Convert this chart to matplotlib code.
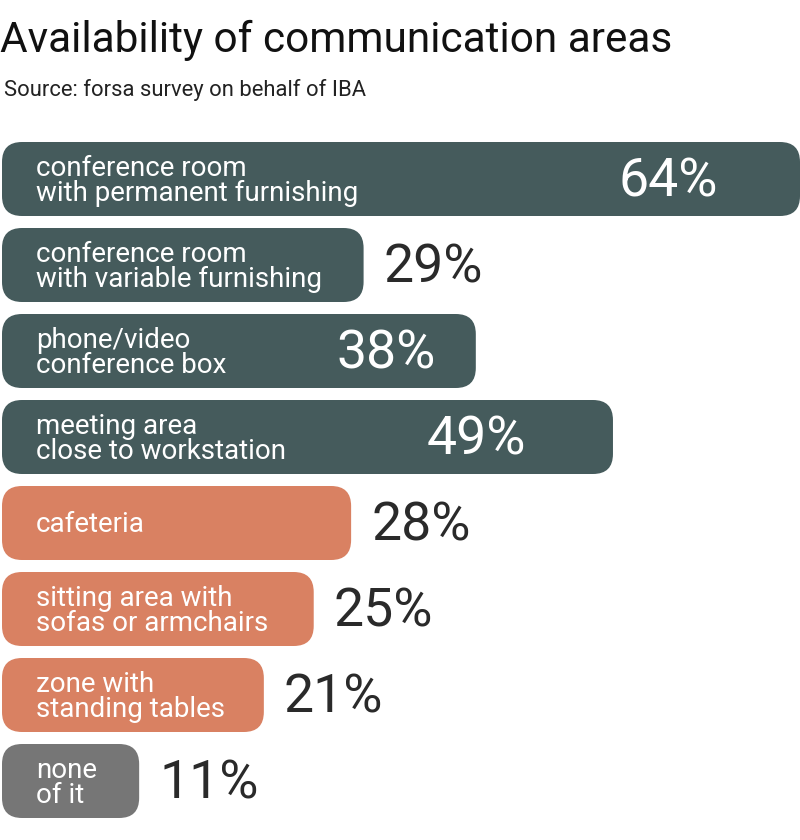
import matplotlib.pyplot as plt
from matplotlib.patches import FancyBboxPatch

# data
categories = ["conference room\nwith permanent furnishing",
              "conference room\nwith variable furnishing",
              "phone/video\nconference box",
              "meeting area\nclose to workstation",
              "cafeteria",
              "sitting area with\nsofas or armchairs",
              "zone with\nstanding tables",
              "none\nof it"]
values = [64, 29, 38, 49, 28, 25, 21, 11]
groups = ["room", "room", "room", "room", "social", "social", "social", "none"]

colors = {"room": "#455b5c", "social": "#d98162", "none": "#767676"}

plt.rcParams['font.family'] = ['Roboto', 'DejaVu Sans']

W, H = 800, 840
fig = plt.figure(figsize=(W / 100, H / 100), dpi=100)
ax = fig.add_axes([0, 0, 1, 1])
ax.axis("off")

px = 798 / 64.0      # pixels per percent
py = 86.0            # pixels per bar slot
x0, y0 = 2, 179      # left edge of bars, centre of first bar
ax.set_xlim(-x0 / px, (W - x0) / px)
ax.set_ylim((H - y0) / py, -y0 / py)

bar_h = 74 / py
rad = 20 / px        # corner radius in x units

# inside labels: distance of label's right edge from the bar end (px)
inside_off = {0: 82, 2: 40, 3: 87}

for i, (cat, v, g) in enumerate(zip(categories, values, groups)):
    box = FancyBboxPatch((0, i - bar_h / 2), v, bar_h,
                         boxstyle="round,pad=0,rounding_size=%f" % rad,
                         mutation_aspect=px / py,
                         fc=colors[g], ec="none")
    ax.add_patch(box)
    ax.text(34 / px, i + 0.02, cat, color="white", fontsize=20,
            va="center", ha="left", linespacing=0.9)
    if i in inside_off:
        ax.text(v - inside_off[i] / px, i + 0.03, "%d%%" % v, color="white",
                fontsize=38.5, va="center", ha="right")
    else:
        ax.text(v + 20 / px, i + 0.03, "%d%%" % v, color="#2a2a2a",
                fontsize=38.5, va="center", ha="left")

fig.text(0 / W, 1 - 40 / H, "Availability of communication areas",
         fontsize=30.5, color="#111111", va="center", ha="left")
fig.text(4 / W, 1 - 90 / H, "Source: forsa survey on behalf of IBA",
         fontsize=15.8, color="#222222", va="center", ha="left")

fig.savefig("out.png", dpi=100, facecolor="white")
